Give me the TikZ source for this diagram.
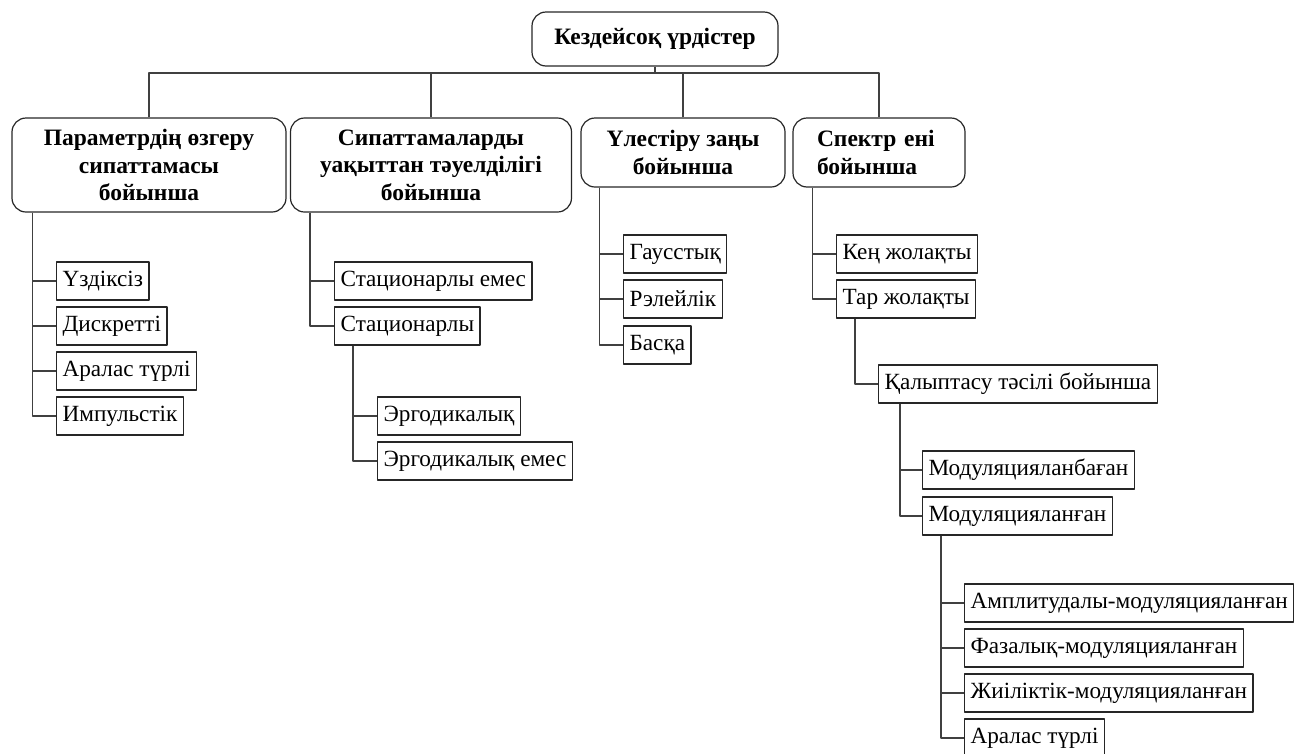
\documentclass[tikz,border=0pt]{standalone}
\usepackage{fontspec}
\setmainfont{Liberation Serif}
\usetikzlibrary{positioning}
\tikzset{
	catbox/.style={draw=black!85, line width=1.2pt, rounded corners=14pt, font=\fontsize{23.5}{27.5}\selectfont\bfseries, align=center, inner sep=0pt},
	leafbox/.style={draw=black!85, line width=1.2pt, anchor=west, minimum height=38pt, inner xsep=6pt, inner ysep=0pt, font=\fontsize{23.2}{25}\selectfont},
	tree/.style={draw=black!75, line width=1.3pt}
}
\begin{document}
\begin{tikzpicture}[x=1pt, y=-1pt, line join=round]
				\useasboundingbox (0,0) rectangle (1296,753);
				% ====== TҮБІР ======
				\node[catbox, minimum width=246pt, minimum height=54pt] (root) at (655,39) {Кездейсоқ үрдістер};
				\coordinate (bus) at (655,73);
				
				% ====== БІРІНШІ ДЕҢГЕЙ ======
				\node[catbox, minimum width=274pt, minimum height=94pt] (param) at (149,165) {Параметрдің өзгеру\\ сипаттамасы\\ бойынша};
				\node[catbox, minimum width=281pt, minimum height=94pt] (time) at (431,165) {Сипаттамаларды\\ уақыттан тәуелділігі\\ бойынша};
				\node[catbox, minimum width=204pt, minimum height=69pt] (distr) at (683,152.5) {Үлестіру заңы\\ бойынша};
				\node[catbox, minimum width=172pt, minimum height=69pt, align=left, text width=124pt] (spec) at (879,152.5) {Спектр ені\\ бойынша};
				
				% Шина
				\draw[tree] (root.south) -- (bus);
				\draw[tree] (param.north) |- (bus); \draw[tree] (time.north) |- (bus);
				\draw[tree] (distr.north) |- (bus); \draw[tree] (spec.north) |- (bus);
				
				% ====== ПАРАМЕТР БОЙЫНША ======
				\node[leafbox] (p1) at (56,281) {Үздіксіз};
				\node[leafbox] (p2) at (56,326) {Дискретті};
				\node[leafbox] (p3) at (56,371) {Аралас түрлі};
				\node[leafbox] (p4) at (56,416) {Импульстік};
				\foreach \n in {p1,p2,p3,p4} \draw[tree] ([xshift=21pt]param.south west) |- (\n.west);
				
				% ====== УАҚЫТ БОЙЫНША ======
				\node[leafbox] (t1) at (334,281) {Стационарлы емес};
				\node[leafbox] (t2) at (334,326) {Стационарлы};
				\foreach \n in {t1,t2} \draw[tree] ([xshift=20pt]time.south west) |- (\n.west);
				\node[leafbox] (t3) at (377,416) {Эргодикалық};
				\node[leafbox] (t4) at (377,461) {Эргодикалық емес};
				\foreach \n in {t3,t4} \draw[tree] ([xshift=19pt]t2.south west) |- (\n.west);
				
				% ====== ҮЛЕСТІРУ ЗАҢЫ ======
				\node[leafbox] (d1) at (623,254) {Гаусстық};
				\node[leafbox] (d2) at (623,299) {Рэлейлік};
				\node[leafbox] (d3) at (623,345) {Басқа};
				\foreach \n in {d1,d2,d3} \draw[tree] ([xshift=19pt]distr.south west) |- (\n.west);
				
				% ====== СПЕКТР ЕНІ ======
				\node[leafbox] (s1) at (836,254) {Кең жолақты};
				\node[leafbox] (s2) at (836,299) {Тар жолақты};
				\foreach \n in {s1,s2} \draw[tree] ([xshift=20pt]spec.south west) |- (\n.west);
				\node[leafbox] (s3) at (878,384) {Қалыптасу тәсілі бойынша};
				\draw[tree] ([xshift=19pt]s2.south west) |- (s3.west);
				\node[leafbox] (s4) at (922,470) {Модуляцияланбаған};
				\node[leafbox] (s5) at (922,516) {Модуляцияланған};
				\foreach \n in {s4,s5} \draw[tree] ([xshift=22pt]s3.south west) |- (\n.west);
				\node[leafbox] (m1) at (964,603) {Амплитудалы-модуляцияланған};
				\node[leafbox] (m2) at (964,648) {Фазалық-модуляцияланған};
				\node[leafbox] (m3) at (964,693) {Жиіліктік-модуляцияланған};
				\node[leafbox] (m4) at (964,738) {Аралас түрлі};
				\foreach \n in {m1,m2,m3,m4} \draw[tree] ([xshift=19pt]s5.south west) |- (\n.west);
\end{tikzpicture}
\end{document}
